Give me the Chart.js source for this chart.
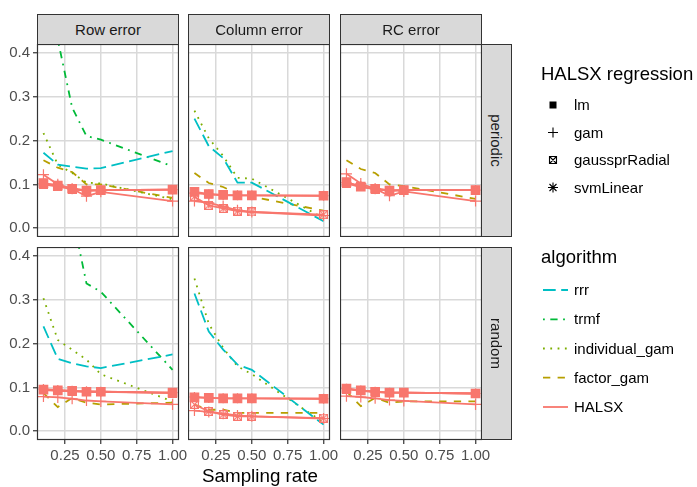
<!DOCTYPE html>
<html>
<head>
<meta charset="utf-8">
<script src="https://cdn.jsdelivr.net/npm/chart.js@4/dist/chart.umd.min.js"></script>
<style>
  body { margin: 0; background: #fff; font-family: "Liberation Sans", Arial, sans-serif; }
  #wrap { position: relative; width: 697px; height: 487px; overflow: hidden; }
  canvas { position: absolute; }
  .strip { position: absolute; box-sizing: border-box; background: #d9d9d9; border: 1px solid #333;
           color: #1a1a1a; font-size: 15px; display: flex; align-items: center; justify-content: center; }
  .strip.v span { transform: rotate(90deg); white-space: nowrap; }
  svg { position: absolute; left: 0; top: 0; }
</style>
</head>
<body>
<div id="wrap"></div>
<script>
'use strict';
(function(){
// ---- data ----
const rates = [0.1, 0.2, 0.3, 0.4, 0.5, 1.0];
const errorTypes = ['Row error', 'Column error', 'RC error'];
const designs = ['periodic', 'random'];
const xTicks = [0.25, 0.5, 0.75, 1.0];
const yTicks = [0, 0.1, 0.2, 0.3, 0.4];
const algorithms = ['rrr', 'trmf', 'individual_gam', 'factor_gam', 'HALSX'];
const regressions = ['lm', 'gam', 'gaussprRadial', 'svmLinear'];

// each one: [Row error, Column error, RC error]; null = not in that panel
const rrrPeriodic = [
  [0.172, 0.145, 0.140, 0.136, 0.137, 0.176],
  [0.250, 0.187, 0.160, 0.104, 0.104, 0.016],
  null];
const rrrRandom = [
  [0.239, 0.165, 0.155, 0.148, 0.144, 0.175],
  [0.314, 0.227, 0.186, 0.152, 0.140, 0.015],
  null];
const trmfPeriodic = [
  [0.600, 0.430, 0.275, 0.210, 0.202, 0.141],
  null, null];
const trmfRandom = [
  [0.900, 0.650, 0.494, 0.337, 0.318, 0.140],
  null, null];
const individualPeriodic = [
  [0.217, 0.145, 0.126, 0.104, 0.102, 0.066],
  [0.268, 0.205, 0.165, 0.115, 0.113, 0.023],
  null];
const individualRandom = [
  [0.303, 0.208, 0.186, 0.163, 0.130, 0.068],
  [0.348, 0.245, 0.190, 0.148, 0.130, 0.020],
  null];
const factorPeriodic = [
  [0.155, 0.138, 0.128, 0.100, 0.100, 0.069],
  [0.126, 0.103, 0.094, 0.079, 0.072, 0.040],
  [0.155, 0.135, 0.126, 0.100, 0.096, 0.067]];
const factorRandom = [
  [0.087, 0.055, 0.076, 0.065, 0.061, 0.065],
  [0.061, 0.049, 0.049, 0.042, 0.042, 0.042],
  [0.091, 0.057, 0.076, 0.065, 0.068, 0.068]];

// HALSX, one array per regression
const lmPeriodic = [
  [0.103, 0.097, 0.090, 0.086, 0.087, 0.088],
  [0.083, 0.078, 0.076, 0.075, 0.075, 0.074],
  [0.105, 0.095, 0.090, 0.086, 0.087, 0.087]];
const gamPeriodic = [
  [0.122, 0.100, 0.090, 0.073, 0.083, 0.062],
  [0.062, 0.058, 0.050, 0.041, 0.037, 0.029],
  [0.124, 0.102, 0.090, 0.074, 0.084, 0.062]];
const gaussPeriodic = [
  [0.100, 0.095, 0.089, 0.085, 0.087, 0.088],
  [0.072, 0.052, 0.045, 0.039, 0.037, 0.031],
  [0.102, 0.094, 0.089, 0.085, 0.087, 0.087]];
const svmPeriodic = [
  [0.102, 0.098, 0.090, 0.086, 0.087, 0.088],
  [0.080, 0.077, 0.075, 0.075, 0.075, 0.074],
  [0.104, 0.096, 0.090, 0.086, 0.087, 0.087]];
const lmRandom = [
  [0.095, 0.093, 0.092, 0.090, 0.090, 0.088],
  [0.077, 0.076, 0.075, 0.075, 0.075, 0.074],
  [0.097, 0.093, 0.090, 0.088, 0.088, 0.086]];
const gamRandom = [
  [0.079, 0.077, 0.074, 0.070, 0.068, 0.061],
  [0.047, 0.044, 0.040, 0.036, 0.034, 0.029],
  [0.080, 0.078, 0.075, 0.071, 0.069, 0.061]];
const gaussRandom = [
  [0.094, 0.092, 0.091, 0.090, 0.090, 0.087],
  [0.061, 0.045, 0.038, 0.034, 0.034, 0.030],
  [0.096, 0.092, 0.089, 0.088, 0.088, 0.086]];
const svmRandom = [
  [0.096, 0.094, 0.092, 0.091, 0.090, 0.088],
  [0.078, 0.076, 0.075, 0.075, 0.075, 0.074],
  [0.097, 0.093, 0.090, 0.088, 0.088, 0.086]];

const algoByDesign = [
  [rrrPeriodic, trmfPeriodic, individualPeriodic, factorPeriodic],
  [rrrRandom, trmfRandom, individualRandom, factorRandom]];
const halsxByDesign = [
  [lmPeriodic, gamPeriodic, gaussPeriodic, svmPeriodic],
  [lmRandom, gamRandom, gaussRandom, svmRandom]];

// ---- style ----
const algoColors = ['#00BFC4', '#00BA38', '#7CAE00', '#B79F00'];
const algoDash = [[12.7, 5.5], [1.8, 5.5, 7.3, 5.5], [1.8, 5.5], [7.3, 7.3]];
const halsxColor = '#F8766D';
const panelLeft = [37, 188, 340], panelTop = [44, 247], panelW = 142, panelH = 193;
const yAxisW = 37, xAxisH = 28, padR = 22;

Chart.defaults.font.family = '"Liberation Sans", Arial, sans-serif';
Chart.defaults.font.size = 15;
Chart.defaults.color = '#4d4d4d';

function boxX(color, size){
  const c = document.createElement('canvas');
  c.width = c.height = size;
  const g = c.getContext('2d');
  g.strokeStyle = color; g.lineWidth = 1.2;
  g.strokeRect(0.6, 0.6, size - 1.2, size - 1.2);
  g.beginPath();
  g.moveTo(0.6, 0.6); g.lineTo(size - 0.6, size - 0.6);
  g.moveTo(size - 0.6, 0.6); g.lineTo(0.6, size - 0.6);
  g.stroke();
  return c;
}
const pointStyles = ['rect', 'cross', boxX(halsxColor, 9), 'star'];
const pointSizes = [6, 5.5, 4.5, 5];

const panelBorder = {
  id: 'panelBorder',
  afterDraw(chart){
    const a = chart.chartArea, ctx = chart.ctx;
    ctx.save();
    ctx.strokeStyle = '#333'; ctx.lineWidth = 1.2;
    ctx.strokeRect(a.left + 0.5, a.top + 0.5, a.right - a.left - 1, a.bottom - a.top - 1);
    ctx.restore();
  }
};

const pts = vals => rates.map((x, i) => ({ x, y: vals[i] }));
const noPad = s => { s.paddingTop = 0; s.paddingBottom = 0; s.paddingLeft = 0; s.paddingRight = 0; };
const wrap = document.getElementById('wrap');

for (let r = 0; r < 2; r++) {
  for (let c = 0; c < 3; c++) {
    const isLeft = c === 0, isBottom = r === 1;
    const cv = document.createElement('canvas');
    const w = panelW + (isLeft ? yAxisW : 0) + (isBottom ? padR : 0);
    const h = panelH + (isBottom ? xAxisH : 0);
    cv.width = w; cv.height = h;
    cv.style.left = (panelLeft[c] - (isLeft ? yAxisW : 0)) + 'px';
    cv.style.top = panelTop[r] + 'px';
    wrap.appendChild(cv);

    const datasets = [];
    halsxByDesign[r].forEach((s, k) => {
      datasets.push({
        label: 'HALSX ' + regressions[k], data: pts(s[c]),
        borderColor: halsxColor, backgroundColor: halsxColor, borderWidth: 1.8,
        pointStyle: pointStyles[k], pointRadius: pointSizes[k], pointBorderWidth: 1.2,
        pointBackgroundColor: halsxColor, pointBorderColor: halsxColor
      });
    });
    algoByDesign[r].forEach((s, k) => {
      if (!s[c]) return;
      datasets.push({
        label: algorithms[k], data: pts(s[c]),
        borderColor: algoColors[k], borderWidth: 1.8, borderDash: algoDash[k],
        pointRadius: 0
      });
    });

    new Chart(cv, {
      type: 'line',
      data: { datasets },
      options: {
        responsive: false, animation: false, events: [],
        layout: { padding: { right: isBottom ? padR : 0 }, autoPadding: false },
        plugins: { legend: { display: false }, tooltip: { enabled: false } },
        scales: {
          x: {
            type: 'linear', min: 0.055, max: 1.045,
            afterBuildTicks: s => { s.ticks = xTicks.map(v => ({ value: v })); },
            afterFit: s => { s.height = isBottom ? xAxisH : 0; noPad(s); },
            border: { display: false },
            grid: { color: '#d9d9d9', lineWidth: 1.5, drawTicks: isBottom, tickLength: 4,
                    tickColor: '#333', tickWidth: 1.2 },
            ticks: { display: isBottom, padding: 3, maxRotation: 0, autoSkip: false,
                     callback: v => v.toFixed(2) }
          },
          y: {
            type: 'linear', min: -0.02, max: 0.42,
            afterBuildTicks: s => { s.ticks = yTicks.map(v => ({ value: v })); },
            afterFit: s => { s.width = isLeft ? yAxisW : 0; noPad(s); },
            border: { display: false },
            grid: { color: '#d9d9d9', lineWidth: 1.5, drawTicks: isLeft, tickLength: 4,
                    tickColor: '#333', tickWidth: 1.2 },
            ticks: { display: isLeft, padding: 3, autoSkip: false,
                     callback: v => v.toFixed(1) }
          }
        }
      },
      plugins: [panelBorder]
    });
  }
}

// strips
errorTypes.forEach((t, c) => {
  const d = document.createElement('div');
  d.className = 'strip';
  d.style.cssText = `left:${panelLeft[c]}px;top:14px;width:${panelW}px;height:31px;`;
  d.textContent = t;
  wrap.appendChild(d);
});
designs.forEach((t, r) => {
  const d = document.createElement('div');
  d.className = 'strip v';
  d.style.cssText = `left:${panelLeft[2] + panelW - 1}px;top:${panelTop[r]}px;width:31px;height:${panelH}px;`;
  d.innerHTML = '<span></span>';
  d.firstChild.textContent = t;
  wrap.appendChild(d);
});

// legends + axis title
const NS = 'http://www.w3.org/2000/svg';
const svg = document.createElementNS(NS, 'svg');
svg.setAttribute('width', 697); svg.setAttribute('height', 487);
wrap.appendChild(svg);
function el(tag, attrs, text){
  const e = document.createElementNS(NS, tag);
  for (const k in attrs) e.setAttribute(k, attrs[k]);
  if (text) e.textContent = text;
  svg.appendChild(e);
  return e;
}
const font = '"Liberation Sans", Arial, sans-serif';
el('text', { x: 260, y: 482, 'text-anchor': 'middle', 'font-size': 18.8, 'font-family': font, fill: '#000' }, 'Sampling rate');

el('text', { x: 541, y: 80, 'font-size': 18.5, 'font-family': font, fill: '#000' }, 'HALSX regression');
const regY = [105, 132.5, 160, 187.5];
regressions.forEach((t, k) => {
  const y = regY[k], x = 553;
  if (k === 0) el('rect', { x: x - 3.5, y: y - 3.5, width: 7, height: 7, fill: '#000' });
  if (k === 1) el('path', { d: `M${x-5},${y}h10M${x},${y-5}v10`, stroke: '#000', 'stroke-width': 1.1, fill: 'none' });
  if (k === 2) el('path', { d: `M${x-3.5},${y-3.5}h7v7h-7zM${x-3.5},${y-3.5}l7,7M${x+3.5},${y-3.5}l-7,7`, stroke: '#000', 'stroke-width': 1.1, fill: 'none' });
  if (k === 3) el('path', { d: `M${x-5},${y}h10M${x},${y-5}v10M${x-3.5},${y-3.5}l7,7M${x+3.5},${y-3.5}l-7,7`, stroke: '#000', 'stroke-width': 1.1, fill: 'none' });
  el('text', { x: 574, y: y + 5, 'font-size': 15, 'font-family': font, fill: '#000' }, t);
});

el('text', { x: 541, y: 263, 'font-size': 18.5, 'font-family': font, fill: '#000' }, 'algorithm');
const algoY = [290, 319.3, 348.5, 377.7, 407];
algorithms.forEach((t, k) => {
  const y = algoY[k];
  const a = { x1: 543, x2: 568, y1: y, y2: y, 'stroke-width': 1.8,
              stroke: k < 4 ? algoColors[k] : halsxColor };
  if (k < 4) a['stroke-dasharray'] = algoDash[k].join(' ');
  el('line', a);
  el('text', { x: 574, y: y + 5, 'font-size': 15, 'font-family': font, fill: '#000' }, t);
});
})();
</script>
</body>
</html>
